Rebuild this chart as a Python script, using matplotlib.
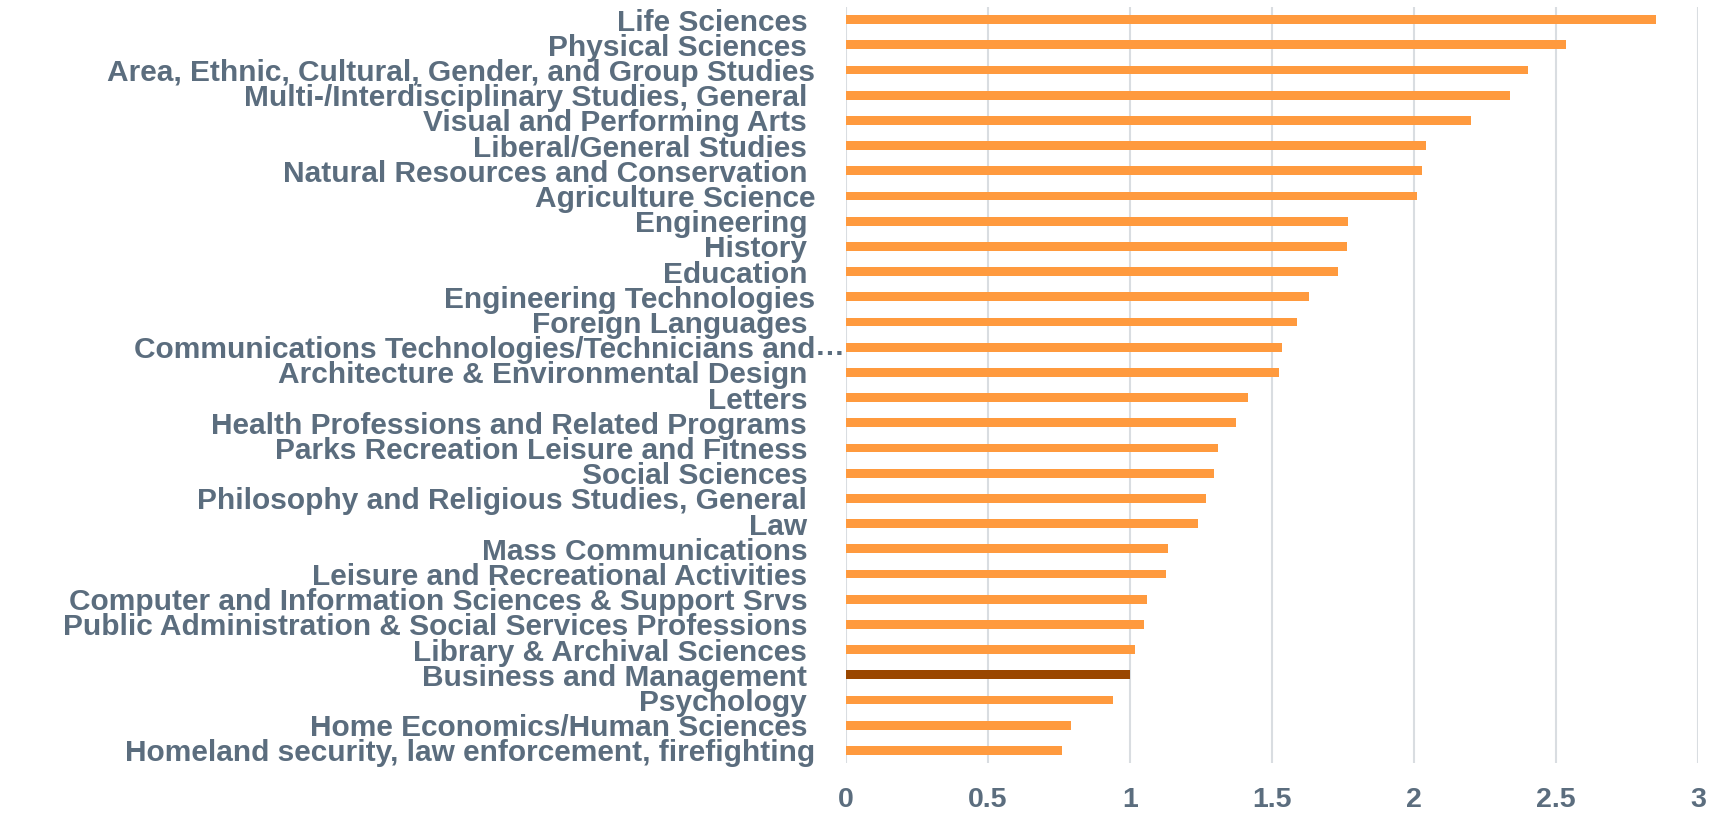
import matplotlib
matplotlib.use("Agg")
import matplotlib.pyplot as plt
from matplotlib.transforms import blended_transform_factory

categories = [
    "Life Sciences ",
    "Physical Sciences ",
    "Area, Ethnic, Cultural, Gender, and Group Studies",
    "Multi-/Interdisciplinary Studies, General ",
    "Visual and Performing Arts ",
    "Liberal/General Studies ",
    "Natural Resources and Conservation ",
    "Agriculture Science",
    "Engineering ",
    "History ",
    "Education ",
    "Engineering Technologies",
    "Foreign Languages ",
    "Communications Technologies/Technicians and",
    "Architecture & Environmental Design ",
    "Letters ",
    "Health Professions and Related Programs ",
    "Parks Recreation Leisure and Fitness ",
    "Social Sciences ",
    "Philosophy and Religious Studies, General ",
    "Law ",
    "Mass Communications ",
    "Leisure and Recreational Activities ",
    "Computer and Information Sciences & Support Srvs ",
    "Public Administration & Social Services Professions ",
    "Library & Archival Sciences ",
    "Business and Management ",
    "Psychology ",
    "Home Economics/Human Sciences ",
    "Homeland security, law enforcement, firefighting",
]
values = [2.851, 2.534, 2.401, 2.338, 2.201, 2.042, 2.029, 2.011,
          1.769, 1.763, 1.733, 1.630, 1.588, 1.537, 1.525, 1.416,
          1.374, 1.311, 1.297, 1.267, 1.239, 1.134, 1.126, 1.059,
          1.049, 1.019, 1.000, 0.940, 0.793, 0.759]
highlight = "Business and Management "
xticks = [0, 0.5, 1, 1.5, 2, 2.5, 3]
xticklabels = ["0", "0.5", "1", "1.5", "2", "2.5", "3"]

ORANGE = "#FF9A3E"
DARK = "#9A4700"
TEXT = "#5B6D7E"
GRID = "#D9DDE1"

plt.rcParams['font.family'] = ['Liberation Sans', 'DejaVu Sans']

fig = plt.figure(figsize=(17.21, 8.16), dpi=100)
ax = fig.add_axes([0.4916, 0.0650, 0.9866 - 0.4916, 0.9914 - 0.0650])

colors = [DARK if c == highlight else ORANGE for c in categories]
y = list(range(len(categories)))
ax.barh(y, values, height=0.35, color=colors, zorder=3)

ax.set_ylim(len(categories) - 0.5, -0.5)
ax.set_xlim(0, 3)
ax.set_xticks(xticks)
ax.set_xticklabels(xticklabels)
ax.set_yticks(y)
ax.set_yticklabels(categories)

ax.grid(axis='x', color=GRID, linewidth=1.5, zorder=0)
for s in ax.spines.values():
    s.set_visible(False)
ax.tick_params(axis='both', length=0)
ax.tick_params(axis='y', pad=22, labelsize=21.5, labelcolor=TEXT)
ax.tick_params(axis='x', pad=17, labelsize=20.5, labelcolor=TEXT)
for lbl in ax.get_yticklabels() + ax.get_xticklabels():
    lbl.set_fontweight('bold')

# ellipsis for the truncated label
trans = blended_transform_factory(ax.transAxes, ax.transData)
ax.text(-0.002, categories.index("Communications Technologies/Technicians and"),
        "…", transform=trans, ha='right', va='center', color=TEXT,
        fontsize=21.5, fontweight='bold')

fig.savefig("out.png", dpi=100)
